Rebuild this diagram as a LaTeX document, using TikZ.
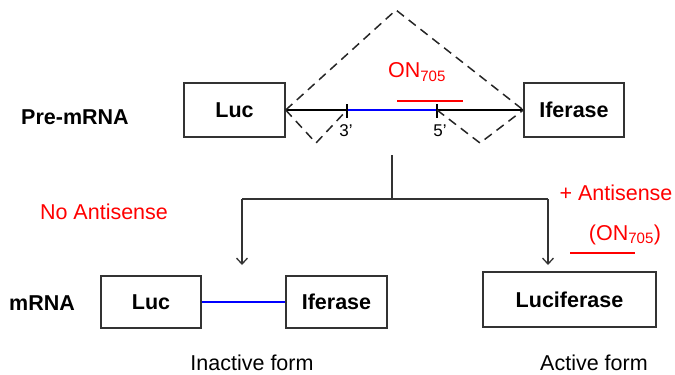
\documentclass[tikz,border=0pt]{standalone}
\usepackage{fontspec}
\setmainfont{Liberation Sans}
\usetikzlibrary{arrows.meta}
\begin{document}
\begin{tikzpicture}[x=1pt,y=-1pt,
  box/.style={draw=black!80,line width=1.4pt,minimum height=#1,inner sep=0pt,font=\fontsize{21.5}{25}\selectfont\bfseries},
  lbl/.style={font=\fontsize{21.5}{25}\selectfont\bfseries},
  plain/.style={font=\fontsize{21.5}{25}\selectfont,inner sep=0pt},
  redtxt/.style={font=\fontsize{21.5}{25}\selectfont,text=red},
  dsh/.style={draw=black!85,line width=1.5pt,dash pattern=on 9pt off 6pt},
  conn/.style={draw=black!80,line width=1.5pt},
  arr/.style={conn,-{Straight Barb[length=6pt,width=11pt,line width=1.3pt]}}]
\useasboundingbox (0,0) rectangle (675,375);
% top row
\node[box=54pt,minimum width=101pt] (luc1) at (234.5,110) {Luc};
\node[box=54pt,minimum width=100pt] (ife1) at (574,110) {Iferase};
\node[lbl] (pre) at (75,117) {Pre-mRNA};
\coordinate (t3) at (347,110);
\coordinate (t5) at (437,110);
\coordinate (apex) at (396,10);
\coordinate (v1) at (316,143);
\coordinate (v2) at (480,143);
\draw[line width=2pt] (luc1.east) -- (t3);
\draw[line width=2pt,blue] (t3) -- (t5);
\draw[line width=2pt] (t5) -- (ife1.west);
\draw[line width=1.3pt] (347,104) -- (347,118);
\draw[line width=1.3pt] (437,104) -- (437,118);
\draw[dsh] (luc1.east) -- (apex) -- (ife1.west);
\draw[dsh] (luc1.east) -- (v1) -- (t3);
\draw[dsh] (t5) -- (v2) -- (ife1.west);
\node[font=\fontsize{17}{20}\selectfont] (l3) at (346,131) {3'};
\node[font=\fontsize{17}{20}\selectfont] (l5) at (440,131) {5'};
\draw[red,line width=2pt] (397,101) -- (463,101);
\node[redtxt] (on) at (417,72) {ON\textsubscript{705}};
% tree
\coordinate (s0) at (392,155);
\coordinate (s1) at (392,199);
\coordinate (hl) at (242,199);
\coordinate (hr) at (548,199);
\coordinate (al) at (242,265);
\coordinate (ar) at (548,265);
\draw[conn] (s0) -- (s1);
\draw[conn] (hl) -- (hr);
\draw[arr] (hl) -- (al);
\draw[arr] (hr) -- (ar);
\node[redtxt] (noa) at (104,212) {No Antisense};
\node[redtxt] (plus) at (616,193) {+ Antisense};
\node[redtxt] (on2) at (625,235) {(ON\textsubscript{705})};
\draw[red,line width=2pt] (570,253) -- (635,253);
% bottom row
\node[lbl] (mrna) at (42,303) {mRNA};
\node[box=52pt,minimum width=100pt] (luc2) at (151,302) {Luc};
\node[box=52pt,minimum width=101pt] (ife2) at (336.5,302) {Iferase};
\node[box=55pt,minimum width=173pt] (lucif) at (569.5,299.5) {Luciferase};
\draw[blue,line width=2.2pt] (luc2.east) -- (ife2.west);
\node[plain] (inact) at (252,363) {Inactive form};
\node[plain] (act) at (594,363) {Active form};
\end{tikzpicture}
\end{document}
